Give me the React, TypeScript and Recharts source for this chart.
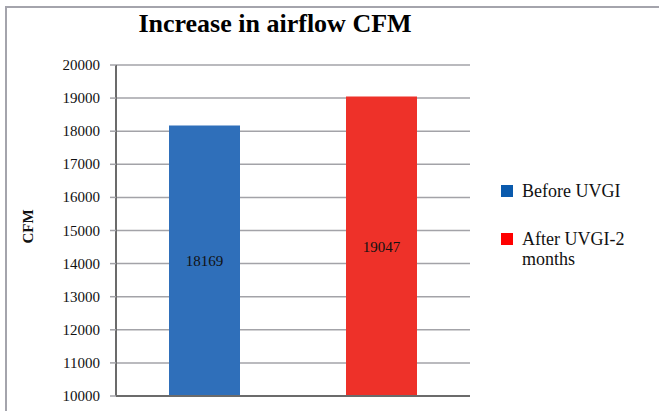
import { BarChart, Bar, Cell, XAxis, YAxis, CartesianGrid, Legend, LabelList } from 'recharts';

const categories = ['Before UVGI', 'After UVGI-2 months'];
const airflowCfm = [18169, 19047];
const yTicks = [10000, 11000, 12000, 13000, 14000, 15000, 16000, 17000, 18000, 19000, 20000];

const BAR_COLORS = ['#2f6fba', '#ee3129'];
const KEY_COLORS = ['#0a5aad', '#ff0000'];
const SERIF = '"Liberation Serif", "DejaVu Serif", serif';

const data = categories.map((name, i) => ({ name, cfm: airflowCfm[i] }));

function AirflowLegend() {
  return (
    <div style={{ fontFamily: SERIF, fontSize: 18, lineHeight: '20px', color: '#111' }}>
      {categories.map((c, i) => (
        <div key={c} style={{ display: 'flex', alignItems: 'flex-start', marginBottom: 28 }}>
          <span
            style={{ width: 12, height: 12, background: KEY_COLORS[i], marginTop: 4, marginRight: 9, flexShrink: 0 }}
          />
          <span style={{ width: 125 }}>{c}</span>
        </div>
      ))}
    </div>
  );
}

function CfmLabel(props: any) {
  const vb = props.viewBox || { y: 65, height: 331 };
  const cy = vb.y + vb.height / 2 - 4;
  return (
    <text
      x={28}
      y={cy}
      transform={`rotate(-90 28 ${cy})`}
      textAnchor="middle"
      dominantBaseline="central"
      fontFamily={SERIF}
      fontSize={15}
      fontWeight="bold"
      fill="#111"
    >
      CFM
    </text>
  );
}

function YTick(props: any) {
  const { x, y, payload } = props;
  return (
    <text x={x} y={y} textAnchor="end" dominantBaseline="central" fontFamily={SERIF} fontSize={15} fill="#111">
      {payload.value}
    </text>
  );
}

export default function App() {
  return (
    <div
      style={{
        position: 'fixed',
        left: 0,
        top: 0,
        width: 659,
        height: 411,
        overflow: 'hidden',
        background: '#fff',
        fontFamily: SERIF,
      }}
    >
      <div
        style={{
          position: 'absolute',
          left: 5,
          top: 6,
          right: -10,
          bottom: -10,
          borderLeft: '2px solid #a4a4ac',
          borderTop: '2px solid #a4a4ac',
        }}
      />
      <div
        style={{
          position: 'absolute',
          left: 0,
          top: 11,
          width: 550,
          textAlign: 'center',
          fontWeight: 'bold',
          fontSize: 26,
          lineHeight: '26px',
          color: '#000',
        }}
      >
        Increase in airflow CFM
      </div>
      <BarChart width={659} height={411} data={data} margin={{ top: 65, right: 189, bottom: 14, left: 0 }}>
        <CartesianGrid vertical={false} stroke="#a3a3a8" strokeWidth={1.5} />
        <XAxis
          dataKey="name"
          tick={false}
          tickLine={false}
          height={1}
          axisLine={{ stroke: '#6b6b6b', strokeWidth: 2 }}
        />
        <YAxis
          width={116}
          domain={[10000, 20000]}
          ticks={yTicks}
          interval={0}
          tickSize={6}
          tickMargin={10}
          tick={<YTick />}
          tickLine={{ stroke: '#a3a3a8', strokeWidth: 1.5 }}
          axisLine={{ stroke: '#6b6b6b', strokeWidth: 2 }}
          label={{ content: CfmLabel }}
        />
        <Legend
          verticalAlign="middle"
          layout="horizontal"
          content={AirflowLegend}
          wrapperStyle={{ left: 501, top: 181, width: 150 }}
        />
        <Bar dataKey="cfm" barSize={71} isAnimationActive={false}>
          {data.map((d, i) => (
            <Cell key={d.name} fill={BAR_COLORS[i]} />
          ))}
          <LabelList dataKey="cfm" position="center" fontFamily={SERIF} fontSize={15} fill="#111" />
        </Bar>
      </BarChart>
    </div>
  );
}
